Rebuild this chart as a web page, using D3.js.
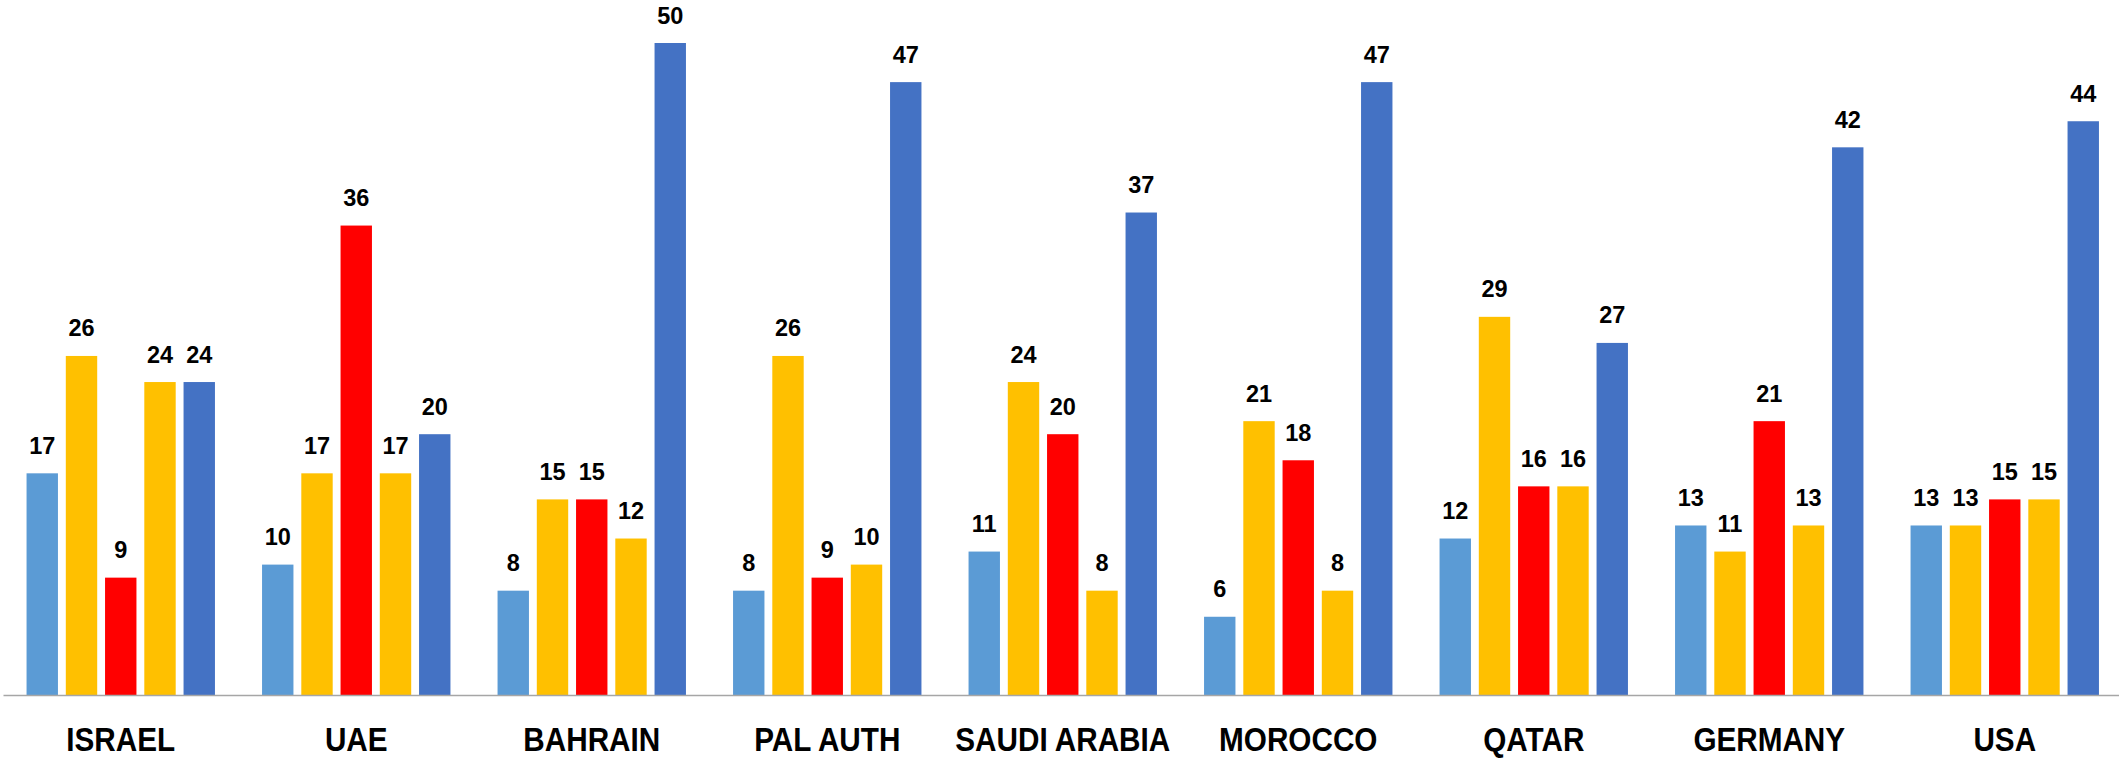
<!DOCTYPE html>
<html>
<head>
<meta charset="utf-8">
<script src="https://cdn.jsdelivr.net/npm/d3@7/dist/d3.min.js"></script>
<style>
  html, body { margin: 0; padding: 0; background: #fff; }
  svg { display: block; }
</style>
</head>
<body>
<svg id="chart" width="2119" height="759"></svg>
<script>
const categories = ["ISRAEL", "UAE", "BAHRAIN", "PAL AUTH", "SAUDI ARABIA", "MOROCCO", "QATAR", "GERMANY", "USA"];
const series1 = [17, 10, 8, 8, 11, 6, 12, 13, 13];
const series2 = [26, 17, 15, 26, 24, 21, 29, 11, 13];
const series3 = [9, 36, 15, 9, 20, 18, 16, 21, 15];
const series4 = [24, 17, 12, 10, 8, 8, 16, 13, 15];
const series5 = [24, 20, 50, 47, 37, 47, 27, 42, 44];
const seriesNames = ["s1", "s2", "s3", "s4", "s5"];
const seriesColors = ["#5B9BD5", "#FFC000", "#FF0000", "#FFC000", "#4472C4"];

const allSeries = [series1, series2, series3, series4, series5];
const table = categories.map((c, i) => ({ category: c, values: allSeries.map((s, j) => ({ key: seriesNames[j], value: s[i], color: seriesColors[j] })) }));

const svg = d3.select("#chart");
const baseline = 695;

const x0 = d3.scaleBand().domain(categories).range([3, 2122.5]).paddingInner(0.2).paddingOuter(0.1);
const x1 = d3.scaleBand().domain(seriesNames).range([0, x0.bandwidth()]).paddingInner(0.2).paddingOuter(0);
const y = d3.scaleLinear().domain([0, 50]).range([baseline, 43]);

const groups = svg.append("g").selectAll("g").data(table).join("g")
  .attr("transform", d => `translate(${x0(d.category)},0)`);

groups.selectAll("rect").data(d => d.values).join("rect")
  .attr("x", d => x1(d.key))
  .attr("y", d => y(d.value))
  .attr("width", x1.bandwidth())
  .attr("height", d => y(0) - y(d.value))
  .attr("fill", d => d.color);

groups.selectAll("text.val").data(d => d.values).join("text")
  .attr("class", "val")
  .attr("x", d => x1(d.key) + x1.bandwidth() / 2)
  .attr("y", d => y(d.value) - 19.5)
  .attr("text-anchor", "middle")
  .attr("font-family", "Liberation Sans, Arial, sans-serif")
  .attr("font-weight", "bold")
  .attr("font-size", 23.5)
  .attr("fill", "#000")
  .text(d => d.value);

const axis = svg.append("g")
  .attr("transform", `translate(0,${baseline})`)
  .call(d3.axisBottom(x0).tickSize(0).tickSizeOuter(0));

axis.select(".domain").attr("stroke", "#A6A6A6").attr("stroke-width", 1.3);
axis.selectAll(".tick text")
  .attr("y", 56.5)
  .attr("dy", 0)
  .attr("transform", "scale(0.9,1)")
  .attr("font-family", "Liberation Sans, Arial, sans-serif")
  .attr("font-weight", "bold")
  .attr("font-size", 33)
  .attr("fill", "#000");
</script>
</body>
</html>
